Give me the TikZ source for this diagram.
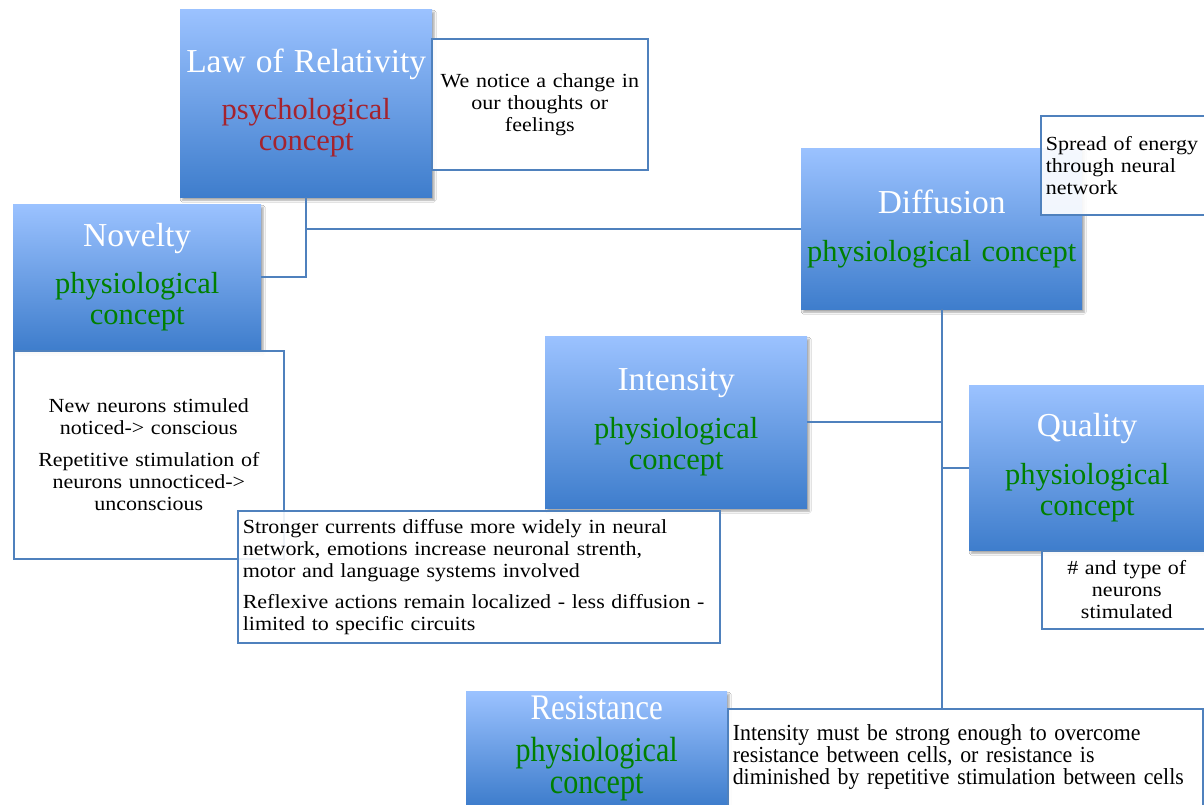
\documentclass[tikz,border=0pt]{standalone}
\usepackage{fontspec}
\setmainfont{Liberation Serif}
\newfontfamily\notefont[FakeStretch=1.1]{Liberation Serif}
\newfontfamily\narrowfont[FakeStretch=0.86]{Liberation Serif}
\newfontfamily\tallfont[FakeStretch=0.95]{Liberation Serif}
\usetikzlibrary{positioning, shadows.blur}

\definecolor{boxtop}{RGB}{155,194,255}
\definecolor{boxbottom}{RGB}{62,125,204}
\definecolor{lineblue}{RGB}{79,129,189}
\definecolor{physgreen}{RGB}{0,128,0}
\definecolor{psychred}{RGB}{165,35,45}

\newcommand{\ctitle}[1]{{\fontsize{33.5}{33}\selectfont #1}}

\tikzset{
    concept/.style={rectangle, top color=boxtop, bottom color=boxbottom, inner sep=0pt, align=center, text=white,
        font=\fontsize{30.5}{31}\selectfont,
        blur shadow={shadow xshift=2pt, shadow yshift=-3pt, shadow blur steps=6, shadow opacity=35}}, % the blue gradient boxes
    note/.style={rectangle, draw=lineblue, line width=1.6pt, fill=white, fill opacity=0.9, text opacity=1,
        inner xsep=5pt, inner ysep=0pt, font=\notefont\fontsize{20}{22}\selectfont}, % the white text boxes
    link/.style={draw=lineblue, line width=1.8pt}, % the connecting lines
}

\begin{document}
\begin{tikzpicture}[x=1pt, y=-1pt]
        \path[fill=white, use as bounding box] (0,0) rectangle (1204,805);

        % concept boxes here
        \node[concept, anchor=north west, text width=252pt, minimum height=188pt] (law) at (180,9)
            {\ctitle{Law of Relativity}\\[16pt]\textcolor{psychred}{psychological\\concept}};
        \node[concept, anchor=north west, text width=248pt, minimum height=146pt] (nov) at (13,204)
            {\ctitle{Novelty}\\[16pt]\textcolor{physgreen}{physiological\\concept}};
        \node[concept, anchor=north west, text width=281pt, minimum height=161pt] (diff) at (801,148)
            {\ctitle{Diffusion}\\[17pt]\textcolor{physgreen}{physiological concept}};
        \node[concept, anchor=north west, text width=262pt, minimum height=172pt] (int) at (545,336)
            {\ctitle{Intensity}\\[17pt]\textcolor{physgreen}{physiological\\concept}};
        \node[concept, anchor=north west, text width=236pt, minimum height=165pt] (qual) at (969,385)
            {\ctitle{Quality}\\[17pt]\textcolor{physgreen}{physiological\\concept}};
        \node[concept, anchor=north west, text width=261pt, minimum height=114pt, font=\narrowfont\fontsize{35}{32}\selectfont] (res) at (466,691)
            {{\fontsize{36}{32}\selectfont Resistance}\\[10pt]\textcolor{physgreen}{physiological\\concept}};

        % notes here
        \node[note, anchor=north west, text width=206pt, minimum height=131pt, align=center] (lawnote) at (431,38)
            {We notice a change in\\our thoughts or\\feelings};
        \node[note, anchor=north west, text width=160pt, minimum height=99pt, align=left] (diffnote) at (1040,115)
            {Spread of energy\\through neural\\network};
        \node[note, anchor=north west, text width=260pt, minimum height=208pt, align=center] (novnote) at (13,350)
            {New neurons stimuled\\noticed-> conscious\\[10pt]Repetitive stimulation of\\neurons unnocticed->\\unconscious};
        \node[note, anchor=north west, text width=472pt, minimum height=132pt, align=left] (intnote) at (237,510)
            {Stronger currents diffuse more widely in neural\\network, emotions increase neuronal strenth,\\motor and language systems involved\\[9pt]Reflexive actions remain localized - less diffusion -\\limited to specific circuits};
        \node[note, anchor=north west, text width=160pt, minimum height=78pt, align=center] (qualnote) at (1041,550)
            {\# and type of\\neurons\\stimulated};
        \node[note, anchor=north west, text width=465pt, minimum height=97pt, align=left, font=\tallfont\fontsize{23}{22}\selectfont] (resnote) at (727,708)
            {Intensity must be strong enough to overcome\\resistance between cells, or resistance is\\diminished by repetitive stimulation between cells};

        % draw connectors
        \draw[link] (law.south) |- (diff.west)
                    (law.south) |- (nov.east)
                    (diff.south) -- (diff.south |- resnote.north)
                    (int.east) -- (int.east -| diff.south)
                    (qual.west) -- (qual.west -| diff.south);
\end{tikzpicture}
\end{document}
